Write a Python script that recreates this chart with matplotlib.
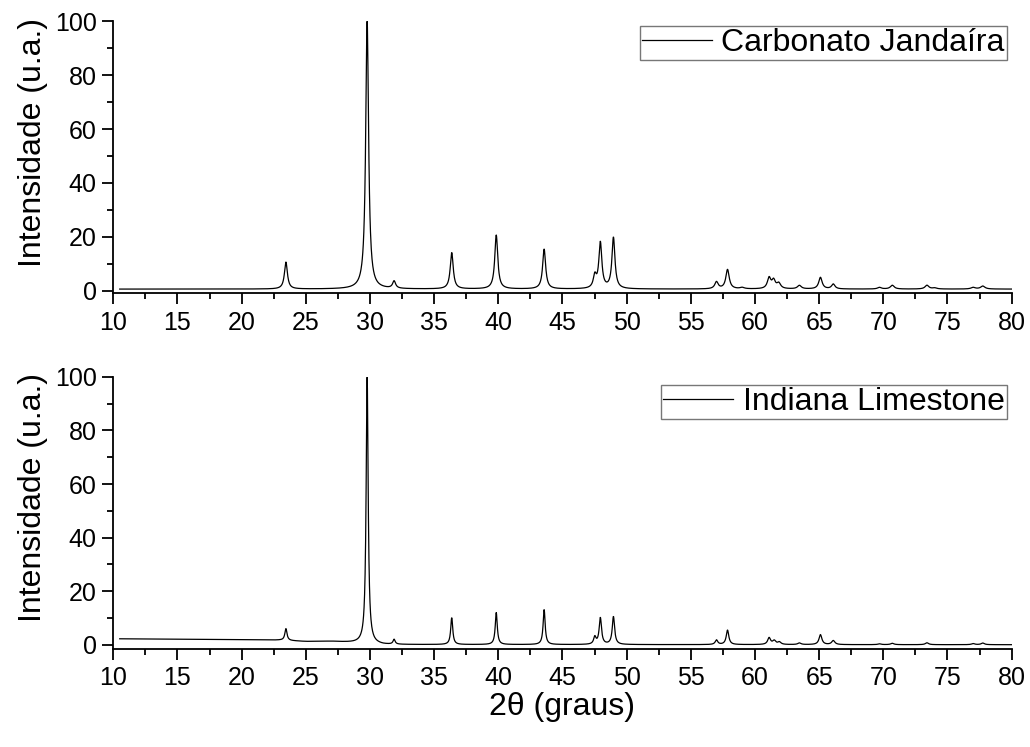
import numpy as np
import matplotlib
matplotlib.use("Agg")
import matplotlib.pyplot as plt
from matplotlib.ticker import MultipleLocator

plt.rcParams['font.family'] = ['Liberation Sans', 'DejaVu Sans']

# Diffraction peak tables: 2theta position (deg), height above background (u.a.), FWHM (deg)
jandaira_pos = [23.45, 29.78, 31.88, 36.37, 39.84, 43.57, 47.52, 47.95, 48.97,
                57.00, 57.86, 59.00, 61.10, 61.45, 61.85, 63.46, 65.10, 66.10,
                69.70, 70.70, 73.40, 74.00, 77.00, 77.75]
jandaira_height = [10.0, 99.4, 2.7, 13.5, 20.0, 14.8, 4.5, 17.0, 19.0,
                   2.6, 7.2, 0.5, 4.0, 3.0, 2.0, 1.3, 4.3, 1.8,
                   0.6, 1.4, 1.4, 0.4, 0.6, 1.1]
jandaira_fwhm = [0.28, 0.27, 0.28, 0.28, 0.28, 0.28, 0.28, 0.28, 0.28,
                 0.32, 0.32, 0.40, 0.32, 0.32, 0.36, 0.36, 0.32, 0.32,
                 0.36, 0.36, 0.36, 0.40, 0.40, 0.40]
jandaira_background = 0.55

indiana_pos = [23.45, 29.78, 31.88, 36.37, 39.84, 43.57, 47.52, 47.95, 48.97,
               57.00, 57.86, 61.10, 61.50, 61.90, 63.46, 65.10, 66.10,
               69.70, 70.70, 73.40, 77.00, 77.75]
indiana_height = [4.4, 99.3, 1.8, 10.0, 11.9, 13.1, 2.7, 9.9, 10.4,
                  1.7, 5.4, 2.5, 1.4, 0.9, 0.6, 3.7, 1.5,
                  0.3, 0.5, 0.7, 0.4, 0.6]
indiana_fwhm = [0.20, 0.19, 0.20, 0.19, 0.19, 0.19, 0.22, 0.22, 0.22,
                0.24, 0.24, 0.27, 0.30, 0.30, 0.30, 0.27, 0.30,
                0.30, 0.30, 0.30, 0.30, 0.30]
# Background level of the Indiana scan at a few 2theta points
indiana_bg_pos = [10.5, 20.0, 23.0, 25.0, 27.0, 28.5, 31.0, 80.0]
indiana_bg_val = [2.3, 1.95, 1.8, 1.3, 1.35, 0.9, 0.15, 0.1]

two_theta = np.arange(10.5, 80.0, 0.02)


def pattern(pos, height, fwhm, background):
    y = np.array(background, dtype=float) * np.ones_like(two_theta)
    for p, h, w in zip(pos, height, fwhm):
        y += h / (1.0 + ((two_theta - p) / (w / 2.0)) ** 2)
    return y


y_jandaira = pattern(jandaira_pos, jandaira_height, jandaira_fwhm, jandaira_background)
y_indiana = pattern(indiana_pos, indiana_height, indiana_fwhm,
                    np.interp(two_theta, indiana_bg_pos, indiana_bg_val))

fig = plt.figure(figsize=(10.30, 7.47), dpi=100)
ax_top = fig.add_axes([0.110, 0.6074, 0.8722, 0.3641])
ax_bot = fig.add_axes([0.110, 0.1312, 0.8722, 0.3645])

panels = [
    (ax_top, y_jandaira, "Carbonato Jandaíra", -1.0, (0.998, 0.995)),
    (ax_bot, y_indiana, "Indiana Limestone", -1.5, (0.998, 0.98)),
]

for ax, y, name, ybottom, anchor in panels:
    ax.plot(two_theta, y, color="black", lw=0.9, label=name)
    ax.set_xlim(10, 80)
    ax.set_ylim(ybottom, 100)
    ax.spines['top'].set_visible(False)
    ax.spines['right'].set_visible(False)
    for s in ('left', 'bottom'):
        ax.spines[s].set_linewidth(1.3)
    ax.spines['left'].set_bounds(ybottom, 100)
    ax.xaxis.set_major_locator(MultipleLocator(5))
    ax.xaxis.set_minor_locator(MultipleLocator(2.5))
    ax.yaxis.set_major_locator(MultipleLocator(20))
    ax.yaxis.set_minor_locator(MultipleLocator(10))
    ax.tick_params(which='major', direction='out', length=8, width=1.3,
                   labelsize=18, pad=4)
    ax.tick_params(axis='x', which='major', pad=4.5)
    ax.tick_params(which='minor', direction='out', length=4.5, width=1.3)
    ax.set_ylabel("Intensidade (u.a.)", fontsize=23)
    ax.yaxis.set_label_coords(-0.073, 0.555)
    leg = ax.legend(loc='upper right', bbox_to_anchor=anchor, fontsize=23,
                    frameon=True, fancybox=False, handlelength=2.2,
                    handletextpad=0.3, borderpad=0.06, borderaxespad=0.1)
    leg.get_frame().set_edgecolor('#555555')
    leg.get_frame().set_linewidth(1.0)

ax_bot.set_xlabel("2θ (graus)", fontsize=23, labelpad=1.5)

fig.savefig("out.png", dpi=100)
